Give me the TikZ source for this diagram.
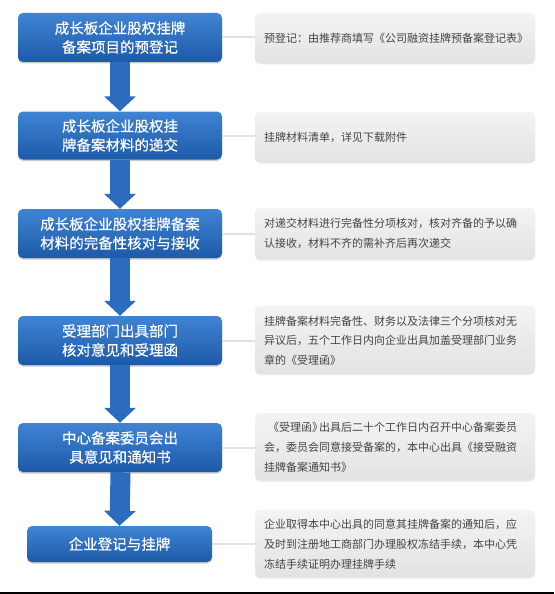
\documentclass[tikz,border=0pt]{standalone}
\usepackage{fontspec}
\newfontfamily\cjk{Noto Sans CJK SC}
\newfontfamily\cjkb[FakeBold=0.5]{Noto Sans CJK SC}
\usetikzlibrary{arrows.meta,shadows}
\definecolor{bluetop}{RGB}{64,132,212}
\definecolor{bluebot}{RGB}{28,90,168}
\definecolor{arrowblue}{RGB}{44,108,190}
\definecolor{graytop}{RGB}{243,243,243}
\definecolor{graybot}{RGB}{227,227,227}
\definecolor{graytext}{RGB}{68,68,68}
\definecolor{linkgray}{RGB}{225,225,225}
\tikzset{
  bluebox/.style={rounded corners=5pt, top color=bluetop, bottom color=bluebot,
    draw=none, text=white, align=center, minimum width=204pt, minimum height=49pt,
    inner sep=0pt, font=\cjkb\fontsize{14.5}{19}\selectfont,
    drop shadow={shadow xshift=0pt, shadow yshift=-1.5pt, opacity=0.35, fill=black!60}},
  graybox/.style={rounded corners=5pt, top color=graytop, bottom color=graybot,
    draw=none, minimum width=280pt, inner sep=0pt,
    drop shadow={shadow xshift=0pt, shadow yshift=-1.5pt, opacity=0.18, fill=black!50}},
  graytxt/.style={anchor=west, inner sep=0pt, text=graytext, align=left,
    font=\cjk\fontsize{11}{19.7}\selectfont},
  flowarrow/.style={line width=20pt, draw=arrowblue, -{Triangle[width=31pt,length=15pt]}},
  link/.style={line width=2pt, draw=linkgray}
}
\begin{document}
\begin{tikzpicture}[x=1pt,y=-1pt]
\useasboundingbox (0,0) rectangle (554,594);
% blue boxes
\node[bluebox] (b1) at (120,37.5) {成长板企业股权挂牌\\备案项目的预登记};
\node[bluebox, minimum height=48pt] (b2) at (120,135.5) {成长板企业股权挂\\牌备案材料的递交};
\node[bluebox] (b3) at (120,233.5) {成长板企业股权挂牌备案\\材料的完备性核对与接收};
\node[bluebox] (b4) at (120,340.5) {受理部门出具部门\\核对意见和受理函};
\node[bluebox] (b5) at (120,447.5) {中心备案委员会出\\具意见和通知书};
\node[bluebox, minimum width=185pt, minimum height=36pt] (b6) at (119.5,544) {企业登记与挂牌};
% gray boxes
\node[graybox, minimum height=50pt] (g1) at (395,38) {};
\node[graybox, minimum height=50pt] (g2) at (395,137) {};
\node[graybox, minimum height=51pt] (g3) at (395,233.5) {};
\node[graybox, minimum height=68pt] (g4) at (395,339.5) {};
\node[graybox, minimum height=67pt] (g5) at (395,446.5) {};
\node[graybox, minimum height=67pt] (g6) at (395,543.5) {};
% gray texts
\node[graytxt] (t1) at ([xshift=9pt]g1.west) {预登记：由推荐商填写《公司融资挂牌预备案登记表》};
\node[graytxt] (t2) at ([xshift=9pt]g2.west) {挂牌材料清单，详见下载附件};
\node[graytxt] (t3) at ([xshift=9pt]g3.west) {对递交材料进行完备性分项核对，核对齐备的予以确\\认接收，材料不齐的需补齐后再次递交};
\node[graytxt] (t4) at ([xshift=9pt,yshift=-1pt]g4.west) {挂牌备案材料完备性、财务以及法律三个分项核对无\\异议后，五个工作日内向企业出具加盖受理部门业务\\章的《受理函》};
\node[graytxt] (t5) at ([xshift=9pt,yshift=-1pt]g5.west) {\kern4pt《受理函》\kern-4pt出具后二十个工作日内召开中心备案委员\\会，委员会同意接受备案的，本中心出具《接受融资\\挂牌备案通知书》};
\node[graytxt] (t6) at ([xshift=9pt,yshift=-1pt]g6.west) {企业取得本中心出具的同意其挂牌备案的通知后，应\\及时到注册地工商部门办理股权冻结手续，本中心凭\\冻结手续证明办理挂牌手续};
% links
\foreach \i in {1,...,6} { \draw[link] (b\i.east) -- (b\i.east -| g\i.west); }
% arrows
\draw[flowarrow] (b1.south) -- (b2.north);
\draw[flowarrow] (b2.south) -- (b3.north);
\draw[flowarrow] (b3.south) -- (b4.north);
\draw[flowarrow] (b4.south) -- (b5.north);
\draw[flowarrow] ([xshift=0.5pt]b5.south) -- (b6.north);
% bottom rule
\coordinate (l0) at (0,593);
\coordinate (l1) at (554,593);
\draw[line width=2pt, black] (l0) -- (l1);
\end{tikzpicture}
\end{document}
